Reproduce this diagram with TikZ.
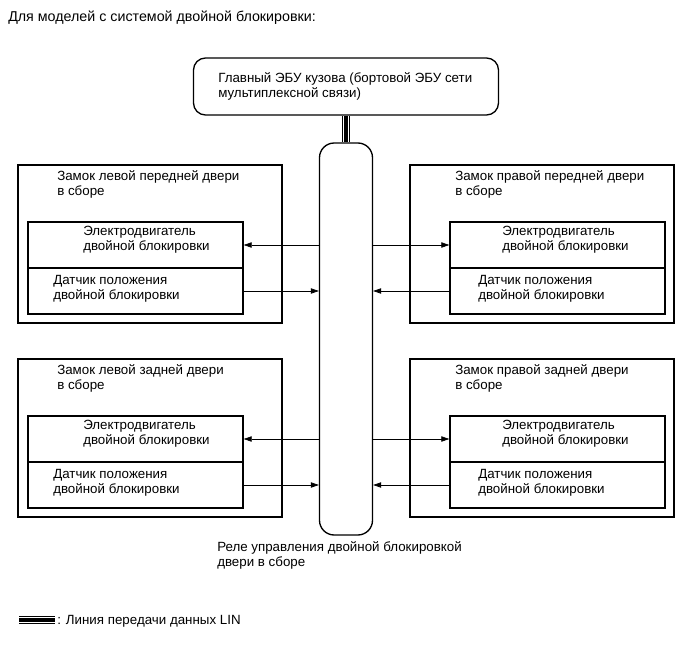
\documentclass[tikz,border=0pt]{standalone}
\usepackage{fontspec}
\setmainfont{Liberation Sans}
\usepackage{tikz}
\usetikzlibrary{arrows.meta}
\pgfdeclarelayer{edgelayer}
\pgfdeclarelayer{nodelayer}
\pgfsetlayers{edgelayer,nodelayer,main}
\tikzstyle{lock}=[draw=black,line width=1pt,minimum width=198pt,minimum height=118.5pt,inner sep=0pt]
\tikzstyle{part}=[draw=black,line width=1pt,minimum width=161.25pt,minimum height=34.5pt,inner sep=0pt]
\tikzstyle{txt}=[anchor=west,align=left,inner sep=0pt,font=\fontsize{10}{11.25}\selectfont]
\tikzstyle{sig}=[-{Triangle[length=6pt,width=4pt]},line width=0.5pt]
\tikzstyle{lin}=[draw=black,line width=6.6pt,postaction={draw=white,line width=5.2pt},postaction={draw=black,line width=3pt}]

\begin{document}
\begin{tikzpicture}[x=0.75pt,y=-0.75pt]
        \useasboundingbox (0,0) rectangle (691,660);
        \begin{pgfonlayer}{nodelayer}
            \node [style = txt, font=\fontsize{10.7}{12}\selectfont] (title) at (8, 18) {Для моделей с системой двойной блокировки:};
            % body ECU and relay
            \node [draw=black, line width=1pt, rounded corners=9pt, minimum width=228.75pt, minimum height=42.75pt] (ecu) at (346, 86.5) {};
            \node [style = txt] (ecutxt) at (218, 86) {Главный ЭБУ кузова (бортовой ЭБУ сети\\мультиплексной связи)};
            \node [draw=black, line width=1pt, rounded corners=11pt, minimum width=39.75pt, minimum height=294pt] (relay) at (346, 339) {};
            \node [style = txt] (relaytxt) at (217, 555) {Реле управления двойной блокировкой\\двери в сборе};
            % front doors
            \node [style = lock] (lockLF) at (150, 244) {};
            \node [style = txt] (lockLFtxt) at (57, 184) {Замок левой передней двери\\в сборе};
            \node [style = part] (mLF) at (135.5, 245) {};
            \node [style = part] (sLF) at (135.5, 291) {};
            \node [style = txt] (mLFtxt) at (83, 240) {Электродвигатель\\двойной блокировки};
            \node [style = txt] (sLFtxt) at (53, 289) {Датчик положения\\двойной блокировки};
            \node [style = lock] (lockRF) at (542, 244) {};
            \node [style = txt] (lockRFtxt) at (455, 184) {Замок правой передней двери\\в сборе};
            \node [style = part] (mRF) at (557.5, 245) {};
            \node [style = part] (sRF) at (557.5, 291) {};
            \node [style = txt] (mRFtxt) at (502, 240) {Электродвигатель\\двойной блокировки};
            \node [style = txt] (sRFtxt) at (478, 289) {Датчик положения\\двойной блокировки};
            % rear doors
            \node [style = lock] (lockLR) at (150, 438) {};
            \node [style = txt] (lockLRtxt) at (57, 378) {Замок левой задней двери\\в сборе};
            \node [style = part] (mLR) at (135.5, 439) {};
            \node [style = part] (sLR) at (135.5, 485) {};
            \node [style = txt] (mLRtxt) at (83, 434) {Электродвигатель\\двойной блокировки};
            \node [style = txt] (sLRtxt) at (53, 483) {Датчик положения\\двойной блокировки};
            \node [style = lock] (lockRR) at (542, 438) {};
            \node [style = txt] (lockRRtxt) at (455, 378) {Замок правой задней двери\\в сборе};
            \node [style = part] (mRR) at (557.5, 439) {};
            \node [style = part] (sRR) at (557.5, 485) {};
            \node [style = txt] (mRRtxt) at (502, 434) {Электродвигатель\\двойной блокировки};
            \node [style = txt] (sRRtxt) at (478, 483) {Датчик положения\\двойной блокировки};
            % legend
            \coordinate (legA) at (19, 620);
            \coordinate (legB) at (55, 620);
            \node [style = txt] (legtxt) at (57, 621) {: Линия передачи данных LIN};
        \end{pgfonlayer}

        \begin{pgfonlayer}{edgelayer}
            \draw [style = lin] (ecu.south) to (relay.north);
            \draw [style = lin] (legA) to (legB);
            \draw [style = sig] (relay.west |- mLF.east) to (mLF.east);
            \draw [style = sig] (sLF.east) to (sLF.east -| relay.west);
            \draw [style = sig] (relay.east |- mRF.west) to (mRF.west);
            \draw [style = sig] (sRF.west) to (sRF.west -| relay.east);
            \draw [style = sig] (relay.west |- mLR.east) to (mLR.east);
            \draw [style = sig] (sLR.east) to (sLR.east -| relay.west);
            \draw [style = sig] (relay.east |- mRR.west) to (mRR.west);
            \draw [style = sig] (sRR.west) to (sRR.west -| relay.east);
        \end{pgfonlayer}
    \end{tikzpicture}
\end{document}
